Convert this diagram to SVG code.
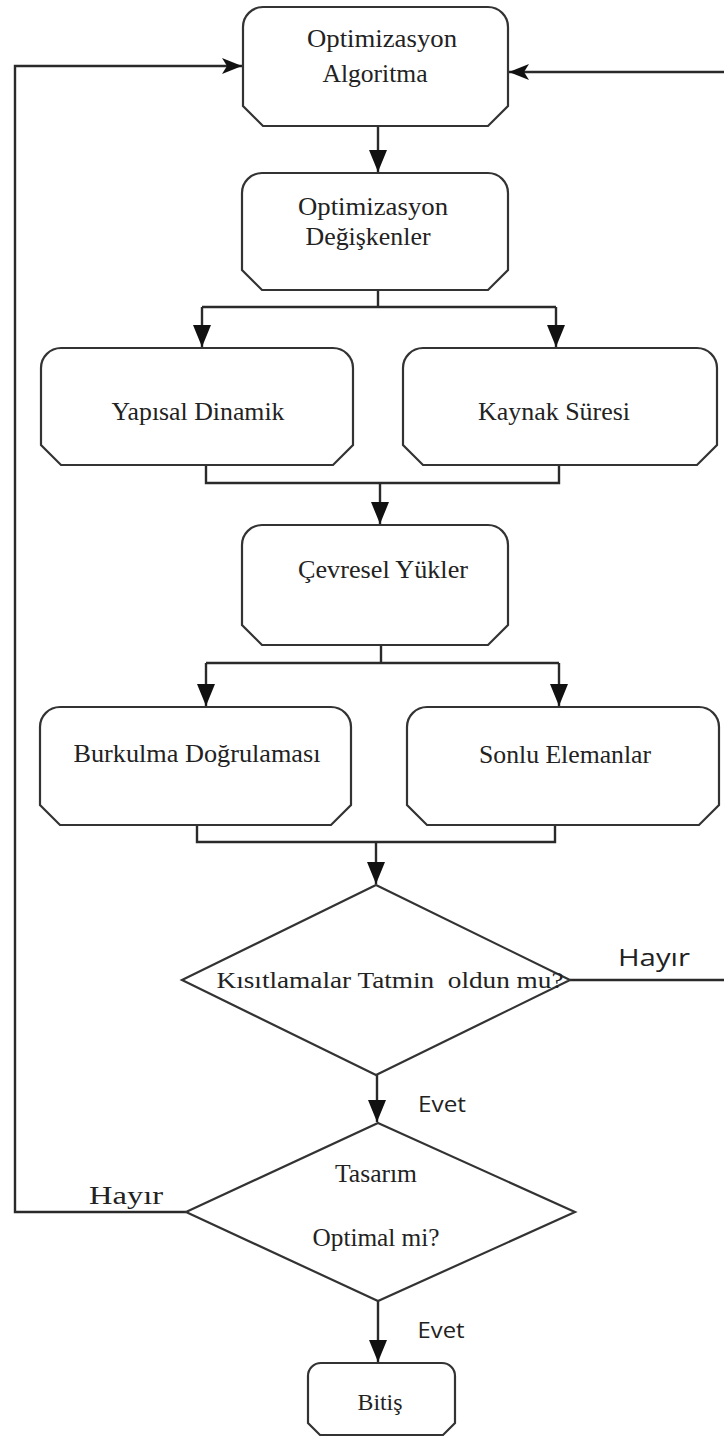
<svg xmlns="http://www.w3.org/2000/svg" width="724" height="1437" viewBox="0 0 724 1437">
<style>
.box{fill:#fff;stroke:#333;stroke-width:2.2}
.conn{fill:none;stroke:#2a2a2a;stroke-width:2.4}
.t{font-family:"Liberation Serif","Times New Roman",serif;fill:#222;text-anchor:middle}
.s{font-family:"Open Sans","Liberation Sans",Arial,sans-serif;fill:#222;text-anchor:middle}
</style>
<defs>
<marker id="ah" markerUnits="userSpaceOnUse" viewBox="0 -10 22 20" refX="22" refY="0" markerWidth="22" markerHeight="20" orient="auto">
<path d="M0,-9 L22,0 L0,9 Z" fill="#111"/>
</marker>
<marker id="ahs" markerUnits="userSpaceOnUse" viewBox="0 -9 20 18" refX="20" refY="0" markerWidth="20" markerHeight="18" orient="auto">
<path d="M0,-8 L20,0 L0,8 L5,0 Z" fill="#111"/>
</marker>
</defs>

<g id="connectors">
<path class="conn" d="M378,126 L378,172" marker-end="url(#ah)"/>
<path class="conn" d="M378,290 L378,307"/>
<path class="conn" d="M202,307 L556,307"/>
<path class="conn" d="M202,307 L202,347" marker-end="url(#ah)"/>
<path class="conn" d="M556,307 L556,347" marker-end="url(#ah)"/>
<path class="conn" d="M206,465 L206,483 L559,483 L559,465"/>
<path class="conn" d="M380,483 L380,524" marker-end="url(#ah)"/>
<path class="conn" d="M381,645 L381,663"/>
<path class="conn" d="M206,663 L559,663"/>
<path class="conn" d="M206,663 L206,706" marker-end="url(#ah)"/>
<path class="conn" d="M559,663 L559,706" marker-end="url(#ah)"/>
<path class="conn" d="M197,825 L197,842 L555,842 L555,825"/>
<path class="conn" d="M376,842 L376,884" marker-end="url(#ah)"/>
<path class="conn" d="M377,1075 L377,1122" marker-end="url(#ah)"/>
<path class="conn" d="M378,1301 L378,1362" marker-end="url(#ah)"/>
<path class="conn" d="M570,980 L726,980 L726,72 L509,72" marker-end="url(#ahs)"/>
<path class="conn" d="M186,1212 L15,1212 L15,66 L242,66" marker-end="url(#ahs)"/>
<text class="s" x="654" y="966" font-size="23" textLength="72" lengthAdjust="spacingAndGlyphs">Hayır</text>
<text class="t" x="126" y="1204" font-size="25" textLength="74" lengthAdjust="spacingAndGlyphs">Hayır</text>
<text class="s" x="442" y="1112" font-size="22" textLength="48" lengthAdjust="spacingAndGlyphs">Evet</text>
<text class="s" x="441" y="1338" font-size="22" textLength="47" lengthAdjust="spacingAndGlyphs">Evet</text>
</g>

<g id="node-algoritma">
<path class="box" d="M243,27 A20,20 0 0 1 263,7 L488,7 A20,20 0 0 1 508,27 L508,106 L488,126 L263,126 L243,106 Z"/>
<text class="t" x="382" y="47" font-size="26" textLength="150" lengthAdjust="spacingAndGlyphs">Optimizasyon</text>
<text class="t" x="375" y="82" font-size="26" textLength="105" lengthAdjust="spacingAndGlyphs">Algoritma</text>
</g>

<g id="node-degiskenler">
<path class="box" d="M242,193 A20,20 0 0 1 262,173 L488,173 A20,20 0 0 1 508,193 L508,270 L488,290 L262,290 L242,270 Z"/>
<text class="t" x="373" y="215" font-size="26" textLength="150" lengthAdjust="spacingAndGlyphs">Optimizasyon</text>
<text class="t" x="368" y="245" font-size="26" textLength="125" lengthAdjust="spacingAndGlyphs">Değişkenler</text>
</g>

<g id="node-yapisal">
<path class="box" d="M41,368 A20,20 0 0 1 61,348 L333,348 A20,20 0 0 1 353,368 L353,445 L333,465 L61,465 L41,445 Z"/>
<text class="t" x="198" y="420" font-size="26" textLength="173" lengthAdjust="spacingAndGlyphs">Yapısal Dinamik</text>
</g>

<g id="node-kaynak">
<path class="box" d="M403,368 A20,20 0 0 1 423,348 L697,348 A20,20 0 0 1 717,368 L717,445 L697,465 L423,465 L403,445 Z"/>
<text class="t" x="554" y="420" font-size="26" textLength="152" lengthAdjust="spacingAndGlyphs">Kaynak Süresi</text>
</g>

<g id="node-cevresel">
<path class="box" d="M242,545 A20,20 0 0 1 262,525 L488,525 A20,20 0 0 1 508,545 L508,625 L488,645 L262,645 L242,625 Z"/>
<text class="t" x="383" y="578" font-size="26" textLength="170" lengthAdjust="spacingAndGlyphs">Çevresel Yükler</text>
</g>

<g id="node-burkulma">
<path class="box" d="M40,727 A20,20 0 0 1 60,707 L331,707 A20,20 0 0 1 351,727 L351,805 L331,825 L60,825 L40,805 Z"/>
<text class="t" x="197" y="762" font-size="26" textLength="247" lengthAdjust="spacingAndGlyphs">Burkulma Doğrulaması</text>
</g>

<g id="node-sonlu">
<path class="box" d="M407,727 A20,20 0 0 1 427,707 L699,707 A20,20 0 0 1 719,727 L719,805 L699,825 L427,825 L407,805 Z"/>
<text class="t" x="565" y="763" font-size="26" textLength="172" lengthAdjust="spacingAndGlyphs">Sonlu Elemanlar</text>
</g>

<g id="node-kisitlamalar">
<polygon class="box" points="376,885 570,980 376,1075 182,980"/>
<text class="t" x="390" y="988" font-size="24" textLength="347" lengthAdjust="spacingAndGlyphs">Kısıtlamalar Tatmin&#160; oldun mu?</text>
</g>

<g id="node-tasarim">
<polygon class="box" points="378,1123 575,1212 378,1301 186,1212"/>
<text class="t" x="376" y="1182" font-size="25" textLength="82" lengthAdjust="spacingAndGlyphs">Tasarım</text>
<text class="t" x="376" y="1246" font-size="25" textLength="127" lengthAdjust="spacingAndGlyphs">Optimal mi?</text>
</g>

<g id="node-bitis">
<path class="box" d="M308,1376 A13,13 0 0 1 321,1363 L442,1363 A13,13 0 0 1 455,1376 L455,1423 L443,1435 L320,1435 L308,1423 Z"/>
<text class="t" x="380" y="1410" font-size="23" textLength="45" lengthAdjust="spacingAndGlyphs">Bitiş</text>
</g>
</svg>
